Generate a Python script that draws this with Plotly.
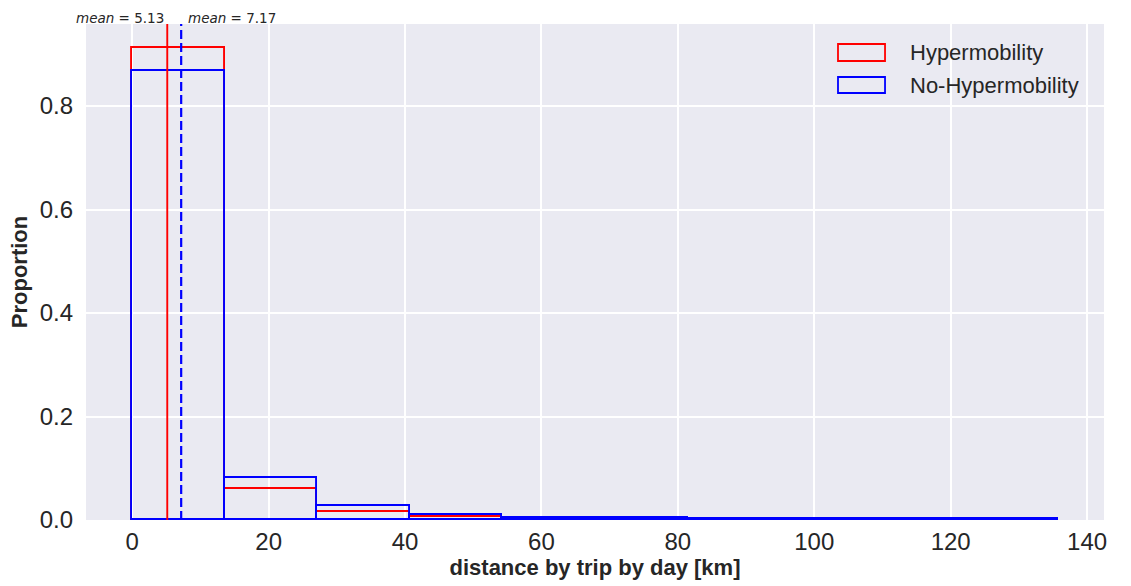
import plotly.graph_objects as go

# ---- data ----
bin_edges = [0, 13.57, 27.14, 40.71, 54.28, 67.85, 81.42, 94.99, 108.56, 122.13, 135.7]
hyper_prop = [0.913, 0.060, 0.0154, 0.0058, 0.0022, 0.0012, 0.0008, 0.0005, 0.0003, 0.0002]
nohyper_prop = [0.868, 0.081, 0.027, 0.0096, 0.0044, 0.0030, 0.0022, 0.0016, 0.0012, 0.0010]
series_names = ["Hypermobility", "No-Hypermobility"]
series_colors = ["red", "blue"]
mean_hyper = 5.13
mean_nohyper = 7.17
x_ticks = [0, 20, 40, 60, 80, 100, 120, 140]
y_ticks = [0.0, 0.2, 0.4, 0.6, 0.8]

centers = [(a + b) / 2 for a, b in zip(bin_edges[:-1], bin_edges[1:])]
widths = [b - a for a, b in zip(bin_edges[:-1], bin_edges[1:])]

fig = go.Figure()
for name, vals, col in zip(series_names, [hyper_prop, nohyper_prop], series_colors):
    fig.add_trace(go.Bar(
        x=centers, y=vals, width=widths, name=name,
        marker=dict(color="rgba(0,0,0,0)", line=dict(color=col, width=1.9)),
        showlegend=False, hoverinfo="skip",
    ))

span = bin_edges[-1] - bin_edges[0]
xr = [bin_edges[0] - 0.05 * span, bin_edges[-1] + 0.05 * span]
yr = [0, max(max(hyper_prop), max(nohyper_prop)) * 1.05]

# mean lines
fig.add_shape(type="line", xref="x", yref="paper", x0=mean_hyper, x1=mean_hyper, y0=0, y1=1,
              line=dict(color="red", width=1.9))
fig.add_shape(type="line", xref="x", yref="paper", x0=mean_nohyper, x1=mean_nohyper, y0=0, y1=1,
              line=dict(color="blue", width=2.2, dash="9px,4px"))
fig.add_annotation(x=mean_hyper, y=1, xref="x", yref="paper", xanchor="right", yanchor="bottom",
                   text="<i>mean</i> = %.2f" % mean_hyper, showarrow=False, xshift=-1, yshift=-4,
                   font=dict(family="DejaVu Sans", size=13.5, color="#262626"))
fig.add_annotation(x=mean_nohyper, y=1, xref="x", yref="paper", xanchor="left", yanchor="bottom",
                   text="<i>mean</i> = %.2f" % mean_nohyper, showarrow=False, xshift=5, yshift=-4,
                   font=dict(family="DejaVu Sans", size=13.5, color="#262626"))

# legend (manual)
leg_y = [(0.9597, 0.9254), (0.8931, 0.8609)]
for (y0, y1), name, col in zip(leg_y, series_names, series_colors):
    fig.add_shape(type="rect", xref="paper", yref="paper", x0=0.7387, x1=0.7849, y0=y1, y1=y0,
                  line=dict(color=col, width=1.8), fillcolor="rgba(0,0,0,0)")
    fig.add_annotation(x=0.8075, y=(y0 + y1) / 2, xref="paper", yref="paper", xanchor="left",
                       yanchor="middle", text=name, showarrow=False,
                       font=dict(family="Liberation Sans, Arial", size=22, color="#262626"))

fig.update_layout(
    width=1131, height=586,
    margin=dict(l=86, r=27, t=24, b=66, autoexpand=False),
    paper_bgcolor="white", plot_bgcolor="#EAEAF2",
    barmode="overlay", bargap=0,
    font=dict(family="Liberation Sans, Arial", color="#262626"),
    showlegend=False,
)
fig.update_xaxes(range=xr, tickvals=x_ticks, ticktext=[str(v) for v in x_ticks],
                 showgrid=True, gridcolor="white", gridwidth=1.5, zeroline=False,
                 showline=False, ticks="", tickfont=dict(size=24), automargin=False,
                 ticklabelstandoff=5,
                 title=dict(text="<b>distance by trip by day [km]</b>", font=dict(size=22), standoff=4))
fig.update_yaxes(range=yr, tickvals=y_ticks, ticktext=["%.1f" % v for v in y_ticks],
                 showgrid=True, gridcolor="white", gridwidth=1.5, zeroline=False,
                 showline=False, ticks="", tickfont=dict(size=24), ticklabelstandoff=12,
                 automargin=False,
                 title=dict(text="<b>Proportion</b>", font=dict(size=22), standoff=5))

fig.write_html("out.html", config={"displayModeBar": False})

# remove default page margin so the figure sits at the window origin
with open("out.html", "r", encoding="utf-8") as f:
    html = f.read()
html = html.replace("<body>", '<body style="margin:0;padding:0;overflow:hidden">', 1)
with open("out.html", "w", encoding="utf-8") as f:
    f.write(html)
